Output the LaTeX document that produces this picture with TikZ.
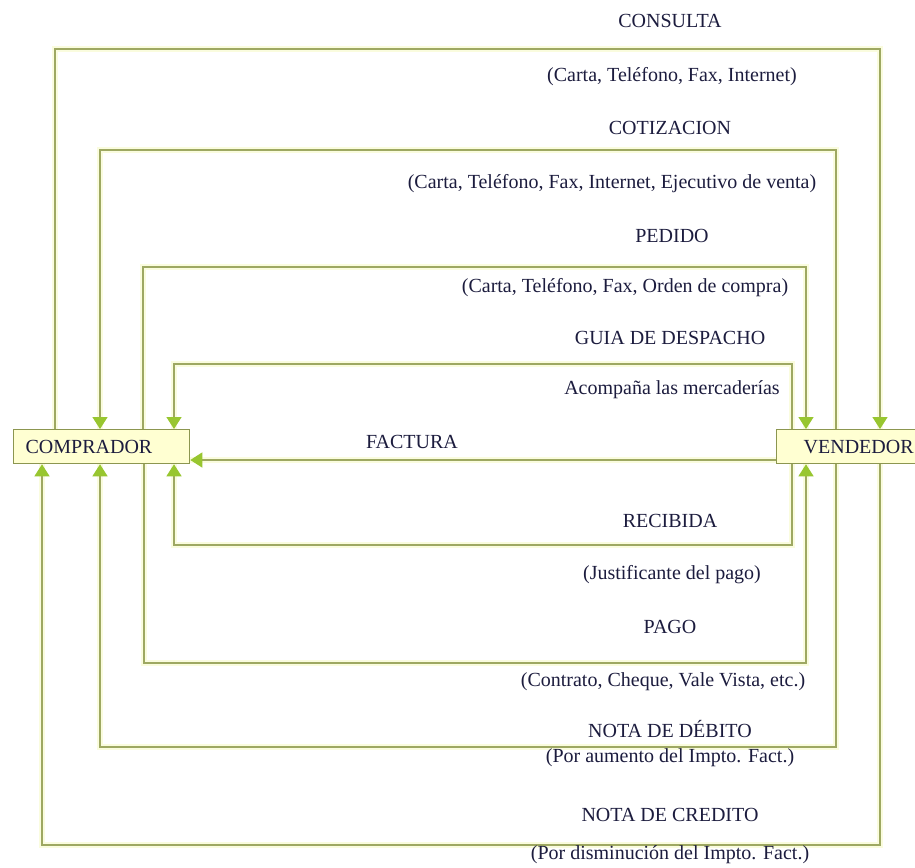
\documentclass[tikz,border=0pt]{standalone}
\usepackage{fontspec}
\setmainfont{Liberation Serif}
\usetikzlibrary{arrows.meta}
\definecolor{linec}{RGB}{158,168,98}
\definecolor{tipc}{RGB}{152,198,48}
\definecolor{boxfill}{RGB}{255,255,210}
\definecolor{boxline}{RGB}{140,150,80}
\definecolor{glow}{RGB}{250,252,222}
\definecolor{txt}{RGB}{28,28,62}
\tikzset{
  flow/.style={draw=linec, line width=1.4pt,
    preaction={draw=glow, line width=6pt, arrows=-}},
  tip/.style={-{Triangle[width=15pt,length=12pt,color=tipc,fill=tipc]}},
  party/.style={draw=boxline, fill=boxfill, line width=1.3pt, anchor=north west,
    minimum height=34pt, align=left, text=txt,
    font=\fontsize{20}{24}\selectfont},
  lbl/.style={text=txt, inner sep=0pt, font=\fontsize{20}{24}\selectfont}
}
\begin{document}
\begin{tikzpicture}[x=1pt,y=-1pt]
\clip (0,0) rectangle (915,867);
\fill[white] (0,0) rectangle (915,867);

% parties
\node[party, inner xsep=12pt, text width=152pt] (comp) at (13,429) {COMPRADOR};
\node[party, inner xsep=27pt, text width=120pt] (vend) at (776,429) {VENDEDOR};

% upper flows
\draw[flow,tip] (55,0 |- comp.north) |- (880,49) -- (880,0 |- vend.north);
\draw[flow,tip] (836,0 |- vend.north) |- (100,150) -- (100,0 |- comp.north);
\draw[flow,tip] (143,0 |- comp.north) |- (806,267) -- (806,0 |- vend.north);
\draw[flow,tip] (792,0 |- vend.north) |- (174,364) -- (174,0 |- comp.north);

% factura
\draw[flow,tip] (vend.west |- 0,460) -- (comp.east |- 0,460);

% lower flows
\draw[flow,tip] (792,0 |- vend.south) |- (174,545) -- (174,0 |- comp.south);
\draw[flow,tip] (144,0 |- comp.south) |- (806,663) -- (806,0 |- vend.south);
\draw[flow,tip] (836,0 |- vend.south) |- (100,747) -- (100,0 |- comp.south);
\draw[flow,tip] (880,0 |- vend.south) |- (42,845) -- (42,0 |- comp.south);

% labels
\node[lbl] (l1) at (670,21) {CONSULTA};
\node[lbl] (l2) at (672,77) {(Carta, Teléfono, Fax, Internet)};
\node[lbl] (l3) at (670,128) {COTIZACION};
\node[lbl] (l4) at (612,184) {(Carta, Teléfono, Fax, Internet, Ejecutivo de venta)};
\node[lbl] (l5) at (672,236) {PEDIDO};
\node[lbl] (l6) at (625,288) {(Carta, Teléfono, Fax, Orden de compra)};
\node[lbl] (l7) at (670,338) {GUIA DE DESPACHO};
\node[lbl] (l8) at (672,390) {Acompaña las mercaderías};
\node[lbl] (l9) at (412,442) {FACTURA};
\node[lbl] (l10) at (670,521) {RECIBIDA};
\node[lbl] (l11) at (672,575) {(Justificante del pago)};
\node[lbl] (l12) at (670,627) {PAGO};
\node[lbl] (l13) at (663,682) {(Contrato, Cheque, Vale Vista, etc.)};
\node[lbl] (l14) at (670,729) {NOTA DE DÉBITO};
\node[lbl] (l15) at (670,758) {(Por aumento del Impto. Fact.)};
\node[lbl] (l16) at (670,815) {NOTA DE CREDITO};
\node[lbl] (l17) at (670,855) {(Por disminución del Impto. Fact.)};
\end{tikzpicture}
\end{document}
